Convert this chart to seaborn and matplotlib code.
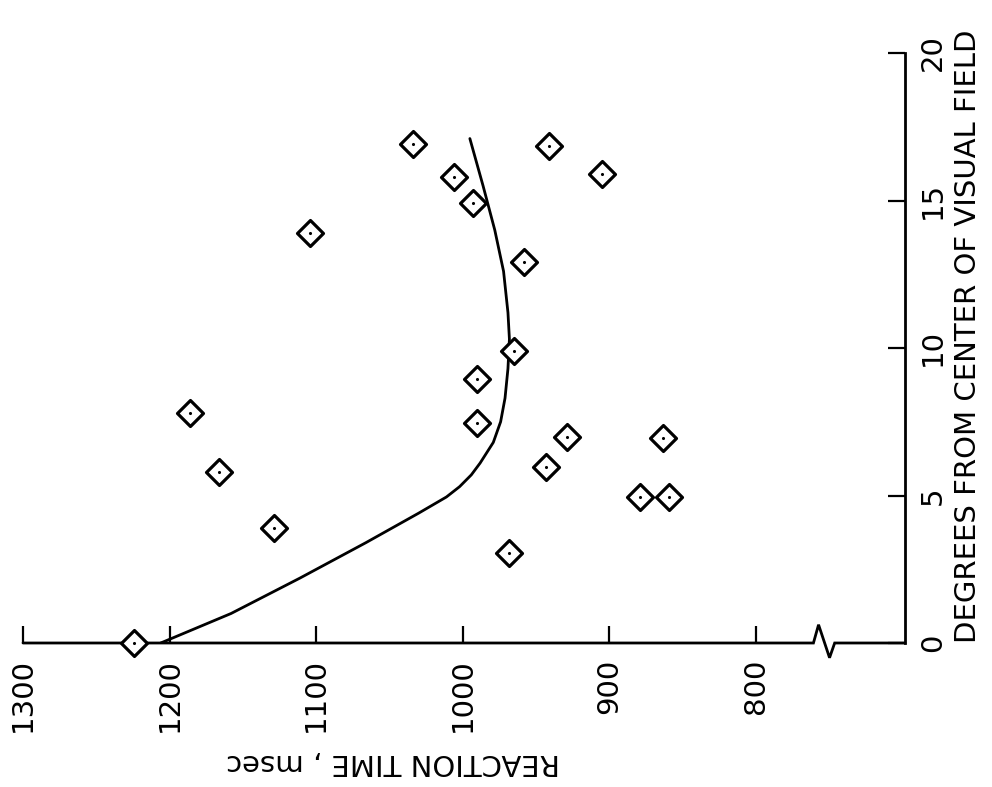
import numpy as np
import pandas as pd
import matplotlib
matplotlib.use("Agg")
import matplotlib.pyplot as plt
import seaborn as sns

# scatter points: reaction time (msec) vs degrees from center
rt_points = [1224, 1129, 1166, 1186, 1104, 1034, 1006, 993, 958, 965,
             990, 990, 929, 943, 968, 941, 905, 863, 879, 859]
deg_points = [0, 3.9, 5.8, 7.8, 13.9, 16.9, 15.8, 14.9, 12.9, 9.9,
              8.95, 7.45, 7.0, 5.95, 3.05, 16.85, 15.9, 6.95, 4.95, 4.95]

# fitted curve
curve_rt = [1206, 1158, 1111, 1066, 1030, 1011, 1002, 994, 988, 979, 974, 971,
            969, 968, 969, 972, 978, 986, 995]
curve_deg = [0, 1.0, 2.2, 3.4, 4.4, 4.95, 5.3, 5.7, 6.1, 6.8, 7.5, 8.3,
             9.3, 10.3, 11.2, 12.6, 14.0, 15.5, 17.1]

rt_ticks = [1300, 1200, 1100, 1000, 900, 800]
deg_ticks = [0, 5, 10, 15, 20]

pts = pd.DataFrame({"rt": rt_points, "deg": deg_points})
curve = pd.DataFrame({"rt": curve_rt, "deg": curve_deg})

sns.set_style("white")
plt.rcParams["font.family"] = ["DejaVu Sans"]
plt.rcParams["text.color"] = "black"
plt.rcParams["xtick.direction"] = "in"
plt.rcParams["ytick.direction"] = "in"
plt.rcParams["xtick.bottom"] = True
plt.rcParams["ytick.right"] = True

fig = plt.figure(figsize=(9.92, 7.87), dpi=100)
ax = fig.add_axes([23 / 992, 144 / 787, 882 / 992, 590 / 787])

sns.lineplot(data=curve, x="rt", y="deg", sort=False, estimator=None,
             color="black", linewidth=2.0, ax=ax)
sns.scatterplot(data=pts, x="rt", y="deg", marker="D", s=175, facecolor="white",
                edgecolor="black", linewidth=2.3, ax=ax, zorder=3, clip_on=False)
sns.scatterplot(data=pts, x="rt", y="deg", marker="o", s=5, color="black",
                linewidth=0, ax=ax, zorder=4, clip_on=False)

ax.set_xlim(1300, 698)
ax.set_ylim(0, 20)

for side in ["top", "left", "bottom"]:
    ax.spines[side].set_visible(False)
ax.spines["right"].set_linewidth(2.0)
ax.spines["right"].set_color("black")

# bottom axis line with a break mark
brk = [1300, 760.5, 757, 749.5, 746, 698]
brk_y = [0, 0, 0.031, -0.025, 0, 0]
ax.plot(brk, brk_y, color="black", linewidth=2.0, transform=ax.get_xaxis_transform(),
        clip_on=False, solid_joinstyle="miter")

ax.yaxis.tick_right()
ax.set_xticks(rt_ticks)
ax.set_yticks(deg_ticks)
ax.set_xticklabels([str(v) for v in rt_ticks], rotation=90, fontsize=21)
ax.set_yticklabels([str(v) for v in deg_ticks], rotation=90, fontsize=21, va="center")
ax.tick_params(axis="x", bottom=True, direction="in", length=12, width=1.6, pad=11,
               colors="black")
ax.tick_params(axis="y", right=True, direction="in", length=12, width=1.6, pad=10,
               colors="black")
ax.set_xlabel("")
ax.set_ylabel("")

fig.text(393 / 992, 1 - 762 / 787, "REACTION TIME , msec", rotation=180,
         ha="center", va="center", fontsize=21, color="black")
fig.text(968 / 992, 1 - 336 / 787, "DEGREES FROM CENTER OF VISUAL FIELD", rotation=90,
         ha="center", va="center", fontsize=21, color="black")

fig.savefig("out.png", dpi=100, facecolor="white")
